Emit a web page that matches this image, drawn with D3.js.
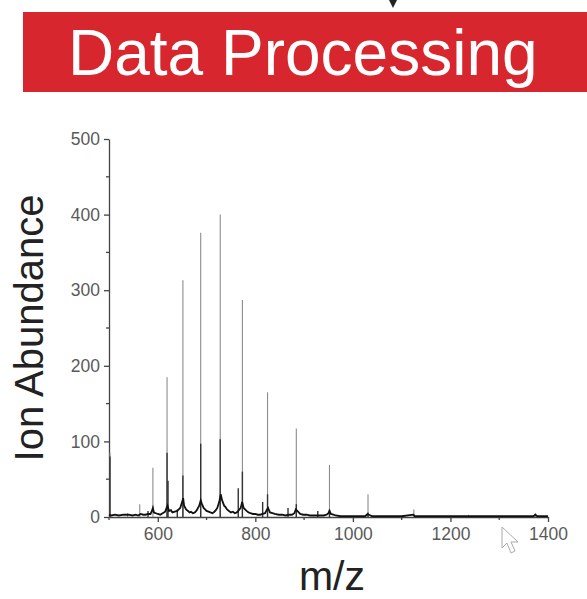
<!DOCTYPE html>
<html>
<head>
<meta charset="utf-8">
<script src="https://cdn.jsdelivr.net/npm/d3@7"></script>
<style>
  body { margin: 0; background: #fff; }
  svg { display: block; font-family: "Liberation Sans", Arial, sans-serif; }
</style>
</head>
<body>
<svg id="canvas" width="587" height="599"></svg>
<script>
// mass spectrum (cytochrome c charge-state series)

// tall thin sticks: m/z and abundance
var peakMz  = [502, 538, 563, 590, 619, 651.5, 688, 728, 773.5, 825, 884, 952, 1031, 1125, 1237, 1374];
var peakInt = [85,  5,   17,  65,  185, 313,   376, 400, 287,   165, 117, 69,  30,   10,   3,    5];

// darker short sticks at the foot of the peaks
var coreMz  = [502, 580, 619, 621, 640, 651.5, 688, 728, 765, 773.5, 815, 825, 867, 884, 928, 952, 1031];
var coreInt = [80,  8,   85,  48,  10,  55,    97,  103, 38,  60,    20,  30,  12,  17,  8,   10,  6];

// noisy baseline trace
var baseMz  = [500, 505, 512, 520, 530, 540, 548, 555, 560, 565, 570, 575, 580, 585, 588, 590, 592, 596, 600, 605,
  610, 615, 618, 620, 623, 627, 630, 635, 640, 643, 646, 650, 652, 654, 658, 662, 665, 668, 672, 676,
  680, 685, 688, 690, 694, 697, 700, 704, 708, 712, 716, 719, 722, 726, 729, 732, 736, 739, 742, 746,
  750, 754, 758, 762, 765, 770, 773, 776, 779, 782, 786, 790, 795, 800, 805, 810, 815, 820, 824, 826,
  830, 835, 840, 848, 855, 862, 870, 875, 880, 883, 886, 889, 892, 898, 905, 912, 920, 930, 940, 946,
  950, 952, 955, 960, 965, 975, 985, 1000, 1025, 1030, 1033, 1040, 1060, 1100, 1124, 1127, 1200, 1300, 1370, 1374, 1378, 1400];
var baseInt = [3, 2, 3, 2, 3, 3, 2, 3, 2, 4, 3, 3, 4, 4, 8, 12, 6, 5, 4, 3,
  5, 7, 12, 15, 8, 9, 6, 7, 8, 10, 12, 20, 25, 15, 10, 8, 6, 7, 5, 6,
  9, 15, 22, 18, 12, 10, 8, 7, 6, 5, 7, 9, 12, 20, 30, 22, 15, 13, 10, 8,
  6, 7, 5, 6, 8, 12, 20, 12, 10, 8, 6, 5, 4, 4, 3, 3, 4, 5, 10, 12,
  6, 5, 4, 3, 3, 2, 3, 3, 5, 10, 8, 6, 4, 3, 3, 2, 2, 2, 2, 3,
  5, 8, 4, 3, 2, 1, 1, 1, 1, 4, 3, 1, 1, 1, 3, 1, 1, 1, 1, 3, 1, 1];

var xTicks = [600, 800, 1000, 1200, 1400];
var xMinor = [500, 700, 900, 1100, 1300];
var yTicks = [0, 100, 200, 300, 400, 500];
var yMinor = [50, 150, 250, 350, 450];

var canvas = d3.select('#canvas');

// banner
canvas.append('rect')
  .attr('x', 23).attr('y', 12)
  .attr('width', 570).attr('height', 80)
  .style('fill', '#d8262e');
canvas.append('text')
  .attr('x', 68).attr('y', 75)
  .style('font-size', '64px')
  .style('fill', '#fff')
  .text('Data Processing');
// little arrow above the banner
canvas.append('path')
  .attr('d', 'M389,0 L397,0 L393,8 Z')
  .style('fill', '#222');

var margin = { left: 109, right: 39, top: 139, bottom: 82 };
var width = 587, height = 599;

var xScale = d3.scaleLinear().domain([500, 1400]).range([margin.left, width - margin.right]);
var yScale = d3.scaleLinear().domain([0, 500]).range([height - margin.bottom, margin.top]);

var axisColor = '#444';

// axes
var xAxis = d3.axisBottom(xScale).tickValues(xTicks).tickFormat(d3.format('d'))
  .tickSize(5).tickSizeOuter(0).tickPadding(6);
var gx = canvas.append('g')
  .attr('transform', 'translate(0,' + yScale(0) + ')')
  .call(xAxis);
gx.append('g').selectAll('line').data(xMinor).enter().append('line')
  .attr('x1', function(d) { return xScale(d); }).attr('x2', function(d) { return xScale(d); })
  .attr('y1', 0).attr('y2', 3);

var yAxis = d3.axisLeft(yScale).tickValues(yTicks).tickFormat(d3.format('d'))
  .tickSize(5).tickSizeOuter(0).tickPadding(4);
var gy = canvas.append('g')
  .attr('transform', 'translate(' + xScale(500) + ',0)')
  .call(yAxis);
gy.append('g').selectAll('line').data(yMinor).enter().append('line')
  .attr('y1', function(d) { return yScale(d); }).attr('y2', function(d) { return yScale(d); })
  .attr('x1', 0).attr('x2', -3);

[gx, gy].forEach(function(g) {
  g.selectAll('path, line').style('stroke', axisColor).style('stroke-width', 1.3);
  g.selectAll('text').style('fill', '#5a5a5a').style('font-size', '17.5px')
    .style('font-family', '"Liberation Sans", Arial, sans-serif');
});

// spectrum: tall sticks
canvas.append('g').selectAll('line').data(peakMz).enter().append('line')
  .attr('x1', function(d) { return xScale(d); })
  .attr('x2', function(d) { return xScale(d); })
  .attr('y1', yScale(0))
  .attr('y2', function(d, i) { return yScale(peakInt[i]); })
  .style('stroke', '#8c8c8c')
  .style('stroke-width', 1.1);

// darker cores
canvas.append('g').selectAll('line').data(coreMz).enter().append('line')
  .attr('x1', function(d) { return xScale(d); })
  .attr('x2', function(d) { return xScale(d); })
  .attr('y1', yScale(0))
  .attr('y2', function(d, i) { return yScale(coreInt[i]); })
  .style('stroke', '#333')
  .style('stroke-width', 1.4);

// baseline
var line = d3.line()
  .x(function(d) { return xScale(d); })
  .y(function(d, i) { return yScale(baseInt[i]); });
canvas.append('path')
  .datum(baseMz)
  .attr('d', line)
  .style('fill', 'none')
  .style('stroke', '#111')
  .style('stroke-width', 1.8);

// axis titles
canvas.append('text')
  .attr('transform', 'translate(43,' + (margin.top + (height - margin.bottom - margin.top) / 2) + ') rotate(-90)')
  .attr('text-anchor', 'middle')
  .style('font-size', '40px')
  .style('fill', '#222')
  .text('Ion Abundance');

canvas.append('text')
  .attr('x', 332).attr('y', 590)
  .attr('text-anchor', 'middle')
  .style('font-size', '41px')
  .style('fill', '#222')
  .text('m/z');

// mouse pointer left in the screenshot
canvas.append('path')
  .attr('d', 'M502,527 L502,548 L507,543 L511,553 L515,551 L511,542 L518,542 Z')
  .style('fill', '#fff')
  .style('stroke', '#aaa')
  .style('stroke-width', 1);
</script>
</body>
</html>
